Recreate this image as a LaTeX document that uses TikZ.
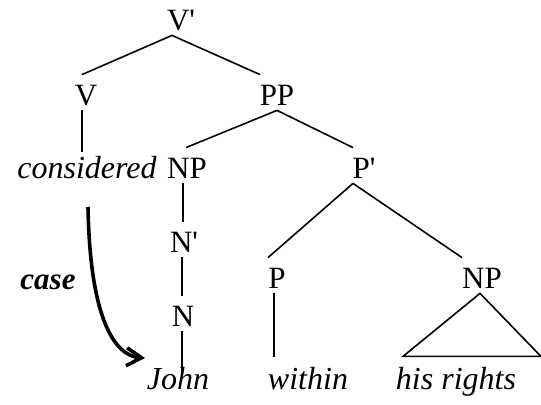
\documentclass[tikz,border=0pt]{standalone}
\usepackage{fontspec}
\setmainfont{Liberation Serif}
\usepackage{tikz}
\usetikzlibrary{arrows.meta, calc}
\newcommand{\treefont}{\fontsize{15.5pt}{18pt}\selectfont}
\newcommand{\wordfont}{\fontsize{16pt}{18pt}\selectfont\itshape}
\tikzset{
  catnode/.style={
    font=\treefont, anchor=base, inner sep=0pt,
    text height=15.5pt, text depth=2pt
  },
  wordnode/.style={
    font=\wordfont, anchor=base, inner sep=0pt,
    text height=7.5pt, text depth=2pt
  },
  casenode/.style={
    font=\treefont\bfseries\itshape, anchor=base, inner sep=0pt
  },
  branch/.style={line width=0.8pt},
  casearrow/.style={
    -{Straight Barb[length=7.5pt, width=9pt]}, line width=1.8pt
  },
}

\begin{document}
\begin{tikzpicture}[x=0.5pt, y=-0.5pt]
  \useasboundingbox (0,0) rectangle (541,405);

  % ---- CATEGORY NODES ----
  \node[catnode] (vbar) at (181,31) {V\textquotesingle};
  \node[catnode] (v) at (86,106) {V};
  \node[catnode] (pp) at (277,106) {PP};
  \node[catnode] (np) at (187,179) {NP};
  \node[catnode] (pbar) at (364,179) {P\textquotesingle};
  \node[catnode] (nbar) at (184,253) {N\textquotesingle};
  \node[catnode] (n) at (183,327) {N};
  \node[catnode] (p) at (277,289) {P};
  \node[catnode] (npobj) at (482,289) {NP};

  % ---- WORDS ----
  \node[wordnode] (considered) at (87,179) {considered};
  \node[wordnode] (john) at (178,390) {John};
  \node[wordnode] (within) at (308,390) {within};
  \node[wordnode] (rights) at (456,390) {his rights};

  % ---- BRANCHES ----
  \draw[branch] ([xshift=-4.5pt]vbar.south) -- ([xshift=-2pt]v.north);
  \draw[branch] ([xshift=-4.5pt]vbar.south) -- ([xshift=-8.5pt]pp.north);
  \draw[branch, shorten >=6pt] ([xshift=-2pt]v.south)
    -- ([xshift=-2pt]v.south |- considered.north);
  \draw[branch] (pp.south) -- ([xshift=-0.5pt]np.north);
  \draw[branch] (pp.south) -- ([xshift=-5.5pt]pbar.north);
  \draw[branch] ([xshift=-2pt]np.south)
    -- ([xshift=-2pt]np.south |- nbar.north);
  \draw[branch] ([xshift=-1pt]nbar.south)
    -- ([xshift=-1pt]nbar.south |- n.north);
  \draw[branch] ([xshift=-0.5pt]n.south)
    -- ([xshift=-0.5pt]n.south |- john.north);
  \draw[branch] ([xshift=-5.5pt]pbar.south) -- ([xshift=-4.5pt]p.north);
  \draw[branch] ([xshift=-5.5pt]pbar.south) -- ([xshift=-10pt]npobj.north);
  \draw[branch, shorten >=9pt] ([xshift=-1.5pt]p.south)
    -- ([xshift=-1.5pt]p.south |- within.north);

  % Triangle over the object
  \draw[branch] ([xshift=-1pt]npobj.south) -- ++(-77,63) -- ++(138,0) -- cycle;

  % ---- CASE ARROW ----
  \node[casenode] (case) at (48,290) {case};
  \coordinate (casefrom) at (88,207);
  \coordinate (caseto) at (145,358);
  \draw[casearrow] (casefrom) .. controls (90,320) and (115,356) .. (caseto);
\end{tikzpicture}
\end{document}
